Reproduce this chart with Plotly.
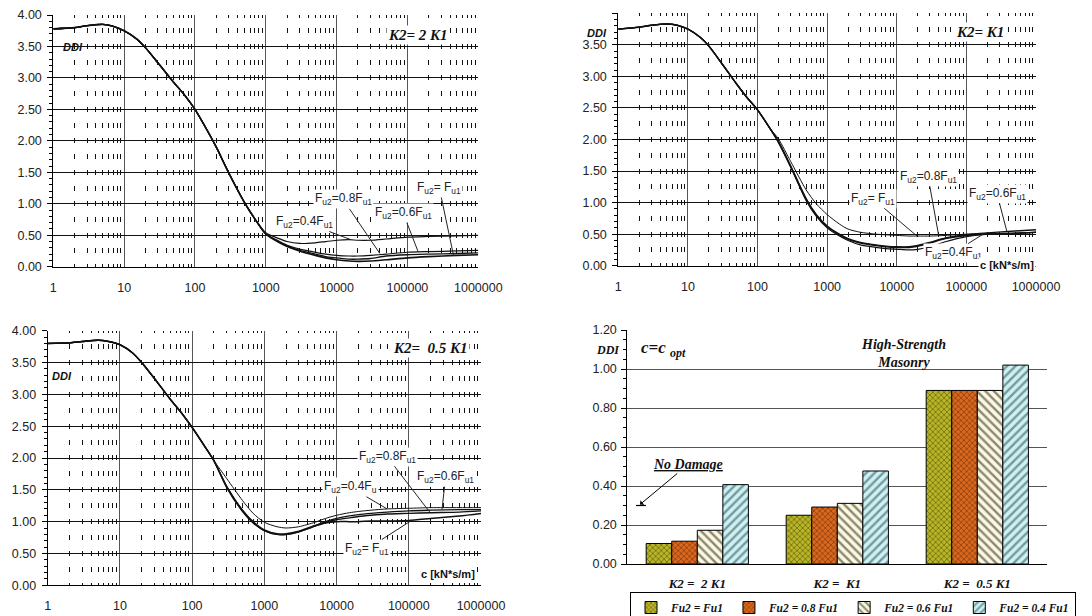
import plotly.graph_objects as go

# The page body keeps its default 8px margin, so the figure is laid out in a
# frame shifted by (OX, OY) relative to the browser window.
WIN_W, WIN_H = 1092, 616
OX, OY = 8, 8
W, H = WIN_W - OX, WIN_H - OY

# ---------------- data ----------------
C = [1, 2, 3, 5, 7, 10, 15, 20, 30, 50, 70, 100, 150, 200, 300, 500, 700,
     1000, 1500, 2000, 3000, 5000, 7000, 10000, 15000, 20000, 30000, 50000,
     100000, 200000, 500000, 1000000]
X_TICKS = [1, 10, 100, 1000, 10000, 100000, 1000000]
X_TICKTEXT = ["1", "10", "100", "1000", "10000", "100000", "1000000"]

# Panel K2 = 2 K1 (common part c = 1 .. 700, then series tails c = 1000 .. 1e6)
A_HEAD = [3.78, 3.80, 3.83, 3.85, 3.82, 3.75, 3.62, 3.48, 3.24, 2.93, 2.74, 2.50, 2.16, 1.90, 1.49, 1.02, 0.76]
A_FU10 = [0.52, 0.39, 0.32, 0.25, 0.18, 0.14, 0.11, 0.09, 0.085, 0.09, 0.11, 0.14, 0.16, 0.18, 0.19]
A_FU08 = [0.52, 0.40, 0.33, 0.26, 0.20, 0.16, 0.14, 0.12, 0.12, 0.13, 0.17, 0.19, 0.20, 0.21, 0.22]
A_FU06 = [0.52, 0.41, 0.34, 0.28, 0.23, 0.20, 0.18, 0.17, 0.17, 0.18, 0.20, 0.23, 0.24, 0.25, 0.26]
A_FU04 = [0.54, 0.45, 0.40, 0.37, 0.38, 0.40, 0.42, 0.43, 0.42, 0.42, 0.44, 0.47, 0.48, 0.49, 0.50]

# Panel K2 = K1 (common part c = 1 .. 150, tails c = 200 .. 1e6)
B_HEAD = [3.75, 3.78, 3.81, 3.83, 3.81, 3.75, 3.62, 3.48, 3.22, 2.88, 2.67, 2.47, 2.18]
B_FU10 = [2.01, 1.65, 1.20, 0.98, 0.81, 0.66, 0.58, 0.53, 0.50, 0.49, 0.48, 0.47, 0.47, 0.47, 0.48, 0.50, 0.51, 0.52, 0.53]
B_FU08 = [1.96, 1.57, 1.05, 0.80, 0.62, 0.49, 0.42, 0.36, 0.32, 0.30, 0.29, 0.29, 0.31, 0.36, 0.43, 0.48, 0.50, 0.51, 0.53]
B_FU06 = [1.97, 1.58, 1.06, 0.81, 0.63, 0.50, 0.43, 0.37, 0.33, 0.31, 0.30, 0.30, 0.32, 0.37, 0.44, 0.49, 0.52, 0.55, 0.57]
B_FU04 = [1.95, 1.56, 1.03, 0.78, 0.60, 0.47, 0.40, 0.33, 0.29, 0.27, 0.26, 0.25, 0.26, 0.30, 0.38, 0.46, 0.50, 0.51, 0.53]

# Panel K2 = 0.5 K1 (common part c = 1 .. 200, tails c = 300 .. 1e6)
C_HEAD = [3.80, 3.81, 3.83, 3.85, 3.83, 3.78, 3.65, 3.50, 3.25, 2.92, 2.72, 2.48, 2.18, 1.96]
C_FU04 = [1.68, 1.33, 1.13, 0.99, 0.92, 0.90, 0.92, 0.99, 1.05, 1.10, 1.14, 1.16, 1.18, 1.20, 1.21, 1.22, 1.22, 1.22]
C_FU06 = [1.56, 1.18, 1.00, 0.87, 0.81, 0.81, 0.85, 0.94, 1.00, 1.05, 1.09, 1.11, 1.13, 1.15, 1.17, 1.18, 1.19, 1.19]
C_FU08 = [1.55, 1.17, 0.99, 0.86, 0.80, 0.80, 0.84, 0.93, 0.99, 1.03, 1.06, 1.08, 1.10, 1.12, 1.13, 1.14, 1.15, 1.17]
C_FU10 = [1.54, 1.16, 0.98, 0.86, 0.80, 0.80, 0.84, 0.93, 0.98, 1.00, 1.00, 1.00, 1.01, 1.01, 1.02, 1.05, 1.09, 1.13]

# Bar panel (c = c_opt)
BAR_CATS = ["K2 =  2 K1", "K2 =  K1", "K2 =  0.5 K1"]
BAR_FU10 = [0.105, 0.250, 0.890]
BAR_FU08 = [0.117, 0.292, 0.890]
BAR_FU06 = [0.173, 0.311, 0.890]
BAR_FU04 = [0.407, 0.477, 1.020]
BAR_NAMES = ["Fu2 = Fu1", "Fu2 = 0.8 Fu1", "Fu2 = 0.6 Fu1", "Fu2 = 0.4 Fu1"]

SANS = "Liberation Sans, Arial, sans-serif"
SERIF = "Liberation Serif, Times New Roman, serif"

def px(x):
    return (x - OX) / W

def py(y):
    return 1 - (y - OY) / H

def dom(x0, x1, y0, y1):
    return [px(x0), px(x1)], [py(y1), py(y0)]

P = {
    1: dom(53.3, 478.3, 15.0, 266.7),
    2: dom(618.3, 1036.0, 13.3, 265.7),
    3: dom(47.7, 481.0, 330.7, 585.3),
    4: dom(627.3, 1047.3, 330.0, 564.0),
}

fig = go.Figure()

def add_lines(idx, head, tails, widths):
    sfx = "" if idx == 1 else str(idx)
    for tail, w in zip(tails, widths):
        fig.add_trace(go.Scatter(
            x=C, y=head + tail, mode="lines",
            line=dict(color="#111111", width=w, shape="spline", smoothing=0.7),
            xaxis=f"x{sfx}", yaxis=f"y{sfx}", showlegend=False, hoverinfo="skip"))

add_lines(1, A_HEAD, [A_FU10, A_FU08, A_FU06, A_FU04], [1.6, 1.3, 1.2, 1.2])
add_lines(2, B_HEAD, [B_FU10, B_FU08, B_FU06, B_FU04], [1.0, 1.5, 1.4, 1.2])
add_lines(3, C_HEAD, [C_FU10, C_FU08, C_FU06, C_FU04], [1.5, 1.4, 1.3, 1.0])

bar_styles = [
    dict(shape="x", bgcolor="#b9b52a", fgcolor="#6e6a08", size=4, solidity=0.35),
    dict(shape="x", bgcolor="#d8681f", fgcolor="#8e3a0a", size=4, solidity=0.35),
    dict(shape="\\", bgcolor="#fbf8e6", fgcolor="#8c8870", size=6, solidity=0.4),
    dict(shape="/", bgcolor="#cdf2f2", fgcolor="#7898a0", size=6, solidity=0.4),
]
for name, vals, st in zip(BAR_NAMES, [BAR_FU10, BAR_FU08, BAR_FU06, BAR_FU04], bar_styles):
    fig.add_trace(go.Bar(
        x=BAR_CATS, y=vals, name=f"<b><i>{name}</i></b>", xaxis="x4", yaxis="y4",
        marker=dict(color=st["bgcolor"], line=dict(color="black", width=1),
                    pattern=dict(shape=st["shape"], bgcolor=st["bgcolor"], fgcolor=st["fgcolor"],
                                 size=st["size"], solidity=st["solidity"], fillmode="replace")),
        hoverinfo="skip"))

minor_vals = [m * 10 ** k for k in range(6) for m in range(2, 10)]
tickfont = dict(family=SANS, size=12.5, color="#222222")

layout = dict(
    width=W, height=H, autosize=False,
    margin=dict(l=0, r=0, t=0, b=0, autoexpand=False),
    paper_bgcolor="white", plot_bgcolor="white",
    barmode="group", bargap=0.27, bargroupgap=0,
    legend=dict(orientation="h", x=px(630), y=py(592), xanchor="left", yanchor="top",
                bordercolor="black", borderwidth=1, bgcolor="white",
                font=dict(family=SERIF, size=11.5, color="#111111"),
                itemwidth=30, tracegroupgap=0),
)

for idx in (1, 2, 3):
    xd, yd = P[idx]
    plot_h = (yd[1] - yd[0]) * H
    per = plot_h / 16.0
    dash = f"2.5px,{per - 5:.2f}px,2.5px,0px"
    sfx = "" if idx == 1 else str(idx)
    layout[f"xaxis{sfx}"] = dict(
        type="log", range=[0, 6], domain=xd, anchor=f"y{sfx}",
        tickmode="array", tickvals=X_TICKS, ticktext=X_TICKTEXT, tickfont=tickfont,
        showgrid=True, gridcolor="#555555", gridwidth=1,
        showline=True, linecolor="black", linewidth=1, ticks="", zeroline=False,
        ticklabelstandoff=9,
        minor=dict(tickmode="array", tickvals=minor_vals, showgrid=True, gridcolor="#111111",
                   gridwidth=1, griddash=dash, ticks=""),
        fixedrange=True)
    layout[f"yaxis{sfx}"] = dict(
        range=[0, 4], domain=yd, anchor=f"x{sfx}", dtick=0.5, tickformat=".2f",
        tickfont=tickfont, showgrid=True, gridcolor="#111111", gridwidth=1,
        showline=True, linecolor="black", linewidth=1, ticks="outside", ticklen=5,
        tickcolor="black", zeroline=False, ticklabelstandoff=3,
        minor=dict(dtick=0.1, ticks="outside", ticklen=3, tickcolor="black", showgrid=False),
        fixedrange=True)

xd, yd = P[4]
layout["xaxis4"] = dict(
    domain=xd, anchor="y4", type="category", tickmode="array", tickvals=BAR_CATS,
    ticktext=[f"<b><i>{c}</i></b>" for c in BAR_CATS],
    tickfont=dict(family=SERIF, size=13, color="#111111"),
    showline=True, linecolor="black", linewidth=1, ticks="", showgrid=False,
    ticklabelstandoff=7, fixedrange=True)
layout["yaxis4"] = dict(
    domain=yd, anchor="x4", range=[0, 1.2], dtick=0.2, tickformat=".2f",
    tickfont=tickfont, showgrid=True, gridcolor="#555555", gridwidth=1,
    showline=True, linecolor="black", linewidth=1, ticks="outside", ticklen=5,
    tickcolor="black", zeroline=False, ticklabelstandoff=2,
    minor=dict(dtick=0.05, ticks="outside", ticklen=3, tickcolor="black", showgrid=False),
    fixedrange=True)

fig.update_layout(**layout)

# ---------------- annotations ----------------
lab_font = dict(family=SANS, size=12, color="#222222")

def flabel(idx, text, tx, ty, tipx, tipy):
    sfx = "" if idx == 1 else str(idx)
    fig.add_annotation(x=tipx, y=tipy, ax=tx, ay=ty, xref=f"x{sfx}", yref=f"y{sfx}",
                       axref=f"x{sfx}", ayref=f"y{sfx}", text=text, showarrow=True,
                       arrowhead=0, arrowwidth=1, arrowcolor="#222222",
                       font=lab_font, bgcolor="white", borderpad=1)

F = lambda s: f"F<sub>u2</sub>={s}"
# panel 1 (x in log10 units)
flabel(1, F("0.8F<sub>u1</sub>"), 4.09, 1.07, 4.61, 0.21)
flabel(1, F("0.4F<sub>u1</sub>"), 3.54, 0.71, 4.20, 0.43)
flabel(1, F("0.6F<sub>u1</sub>"), 4.94, 0.85, 5.15, 0.24)
flabel(1, "F<sub>u2</sub>= F<sub>u1</sub>", 5.45, 1.25, 5.65, 0.18)
# panel 2
flabel(2, F("0.8F<sub>u1</sub>"), 4.45, 1.41, 4.60, 0.49)
flabel(2, "F<sub>u2</sub>= F<sub>u1</sub>", 3.66, 1.06, 4.29, 0.47)
flabel(2, F("0.6F<sub>u1</sub>"), 5.44, 1.14, 5.58, 0.55)
flabel(2, F("0.4F<sub>u1</sub>"), 4.81, 0.20, 5.24, 0.50)
# panel 3
flabel(3, F("0.8F<sub>u1</sub>"), 4.70, 2.02, 5.29, 1.15)
flabel(3, F("0.6F<sub>u1</sub>"), 5.51, 1.70, 5.46, 1.19)
flabel(3, F("0.4F<sub>u</sub>"), 4.19, 1.54, 4.70, 1.20)
flabel(3, "F<sub>u2</sub>= F<sub>u1</sub>", 4.42, 0.57, 5.04, 1.02)

def txt(idx, text, x, y, font, bg=None, xref=None, yref=None):
    sfx = "" if idx == 1 else str(idx)
    fig.add_annotation(x=x, y=y, xref=xref or f"x{sfx}", yref=yref or f"y{sfx}",
                       xanchor="center", yanchor="middle",
                       text=text, showarrow=False, font=font,
                       bgcolor=bg if bg else "rgba(0,0,0,0)", borderpad=1)

title_font = dict(family=SERIF, size=15, color="#111111")
ddi_font = dict(family=SANS, size=11, color="#111111")
unit_font = dict(family=SANS, size=11, color="#111111")

txt(1, "<b><i>K2= 2 K1</i></b>", 5.15, 3.68, title_font, "white")
txt(2, "<b><i>K2= K1</i></b>", 5.20, 3.70, title_font, "white")
txt(3, "<b><i>K2=  0.5 K1</i></b>", 5.30, 3.73, title_font, "white")

txt(1, "<b><i>DDI</i></b>", 0.28, 3.49, ddi_font)
txt(2, "<b><i>DDI</i></b>", px(597), py(33), ddi_font, xref="paper", yref="paper")
txt(3, "<b><i>DDI</i></b>", 0.20, 3.29, ddi_font, "white")

txt(1, "<b>c [kN*s/m]</b>", 5.49, -0.07, unit_font, "white")
txt(2, "<b>c [kN*s/m]</b>", 5.58, 0.01, unit_font, "white")
txt(3, "<b>c [kN*s/m]</b>", 5.54, 0.18, unit_font, "white")

# bar panel texts
txt(4, "<b><i>DDI</i></b>", px(608), 1.10, dict(family=SERIF, size=12, color="#111111"), xref="paper")
txt(4, "<b><i>c=c</i></b> <sub><b><i>opt</i></b></sub>", px(663), 1.105,
    dict(family=SERIF, size=17, color="#111111"), xref="paper")
txt(4, "<b><i>High-Strength<br>Masonry</i></b>", px(903), 1.077,
    dict(family=SERIF, size=14, color="#111111"), xref="paper")

fig.add_annotation(x=px(640), y=0.305, xref="paper", yref="y4", ax=48, ay=-40,
                   text="<b><i><u>No Damage</u></i></b>", showarrow=True,
                   arrowhead=1, arrowsize=1, arrowwidth=1, arrowcolor="black",
                   font=dict(family=SERIF, size=14, color="#111111"))
fig.add_shape(type="line", xref="paper", yref="y4", x0=px(636), x1=px(646), y0=0.30, y1=0.30,
              line=dict(color="black", width=1.2))

fig.write_html("out.html")
